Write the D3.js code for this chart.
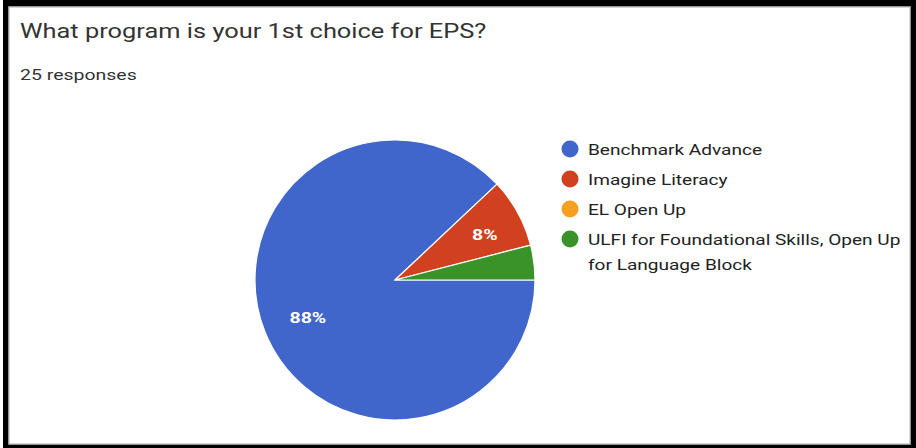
<!DOCTYPE html>
<html><head><meta charset="utf-8">
<script src="https://cdn.jsdelivr.net/npm/d3@7"></script>
<style>html,body{margin:0;padding:0;background:#fff;}svg{display:block;}</style>
</head><body>
<svg id="c" width="916" height="448"></svg>
<script>
const categories = ["Benchmark Advance","Imagine Literacy","EL Open Up","ULFI for Foundational Skills, Open Up for Language Block"];
const counts = [22, 2, 0, 1];
const colors = ["#4166cb","#d1401f","#f5a020","#3a9328"];
const legendLines = [["Benchmark Advance"],["Imagine Literacy"],["EL Open Up"],["ULFI for Foundational Skills, Open Up","for Language Block"]];
const title = "What program is your 1st choice for EPS?";
const subtitle = "25 responses";

const SX = 1.21; // horizontal stretch of the reference image
const svg = d3.select("#c");
function stext(parent, x, y, str, size, fill, weight, anchor, sx){
  const t = parent.append("text")
    .attr("transform",`translate(${x},${y}) scale(${sx||SX},1)`)
    .attr("font-family","Roboto, sans-serif").attr("font-size",size)
    .attr("fill",fill).text(str);
  if (weight) t.attr("font-weight",weight);
  if (anchor) t.attr("text-anchor",anchor);
  return t;
}
// frame
svg.append("rect").attr("x",0).attr("y",0).attr("width",916).attr("height",448).attr("fill","#000");
svg.append("rect").attr("x",0).attr("y",0).attr("width",3).attr("height",448).attr("fill","#fff");
svg.append("rect").attr("x",9).attr("y",7).attr("width",901).attr("height",437).attr("fill","#fff").attr("stroke","#c8c8c8").attr("stroke-width",1.5);

stext(svg,20,38,title,21,"#333");
stext(svg,20,80,subtitle,15,"#333",null,null,1.3);

const total = d3.sum(counts);
const cx = 395, cy = 280, r = 140;
const pie = d3.pie().sort(null).value(d=>d).startAngle(Math.PI/2).endAngle(Math.PI/2 + 2*Math.PI);
const arcs = pie(counts);
const arc = d3.arc().innerRadius(0).outerRadius(r);
const g = svg.append("g").attr("transform",`translate(${cx},${cy})`);
g.selectAll("path").data(arcs.filter(a=>a.data>0)).join("path")
  .attr("d",arc).attr("fill",(d)=>colors[d.index]).attr("stroke","#fff").attr("stroke-width",1.2);
const labelArc = d3.arc().innerRadius(r*0.7).outerRadius(r*0.7);
arcs.filter(a=>a.data/total>=0.05).forEach(d=>{
  const [x,y]=labelArc.centroid(d);
  stext(g, x+4, y+7, Math.round(d.data/total*100)+"%", 15, "#fff", "bold", "middle", 1.3);
});

const lg = svg.append("g");
const rowY = [149,179,209,239];
categories.forEach((c,i)=>{
  lg.append("circle").attr("cx",570).attr("cy",rowY[i]).attr("r",8.5).attr("fill",colors[i]);
  legendLines[i].forEach((ln,j)=>{
    stext(lg,588,rowY[i]+j*25+5.5,ln,15.5,"#222",null,null,1.23);
  });
});
</script>
</body></html>
